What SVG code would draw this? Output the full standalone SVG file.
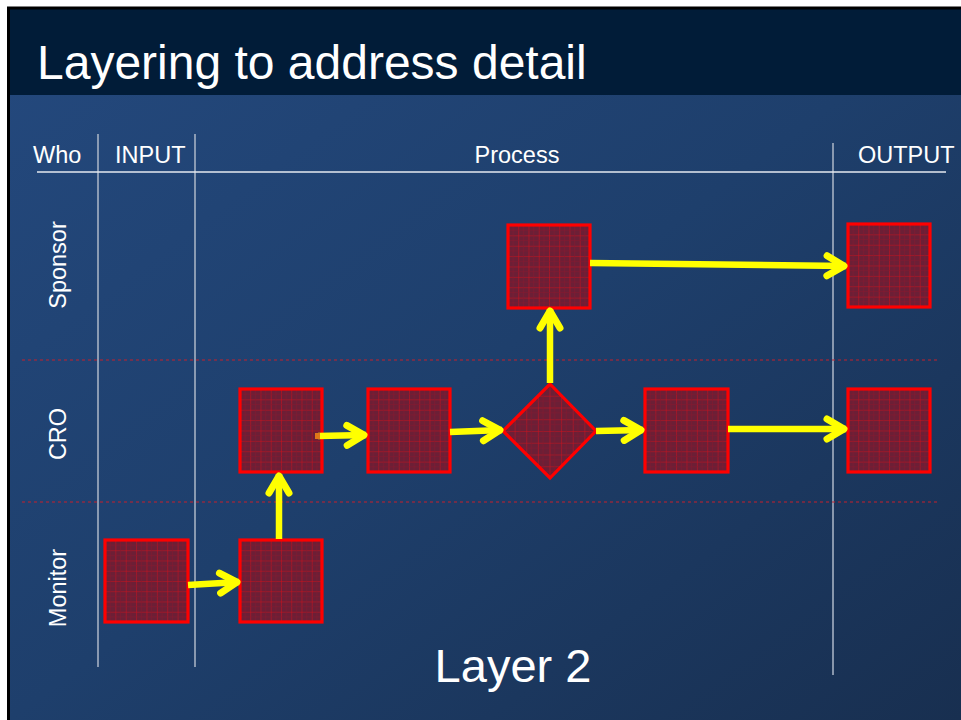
<svg xmlns="http://www.w3.org/2000/svg" width="961" height="720" viewBox="0 0 961 720">
<defs>
<linearGradient id="bg" x1="0" y1="0" x2="1" y2="1">
<stop offset="0" stop-color="#24497e"/>
<stop offset="0.5" stop-color="#1e3f6c"/>
<stop offset="1" stop-color="#182f50"/>
</linearGradient>
<pattern id="grid" patternUnits="objectBoundingBox" width="0.125" height="0.125">
<rect width="12" height="12" fill="#6c1f36"/>
<path d="M0 0H12M0 0V12" stroke="#d0101c" stroke-width="1" fill="none"/>
<path d="M0 5.2H12M5.2 0V12" stroke="#84192f" stroke-width="0.6" fill="none"/>
</pattern>
<marker id="arrow" markerUnits="userSpaceOnUse" orient="auto" refX="0" refY="0" overflow="visible" markerWidth="30" markerHeight="30">
<path d="M-19,-10 L-2,0 L-19,10" fill="none" stroke="#ffff00" stroke-width="7" stroke-linecap="round" stroke-linejoin="round"/>
</marker>
<style>
.t{font-family:"Liberation Sans",Arial,sans-serif;fill:#ffffff}
.hdr{font-size:23.5px}
.box{fill:url(#grid);stroke:#ff0000;stroke-width:3.2}
.vl{stroke:#aeb8c8;stroke-width:1.5}
.dash{stroke:#c4202c;stroke-width:1;stroke-dasharray:3 3}
.c{fill:none;stroke:#ffff00;stroke-width:6.5;marker-end:url(#arrow)}
</style>
</defs>
<rect x="0" y="0" width="961" height="720" fill="#ffffff"/>
<rect x="8" y="8" width="953" height="712" fill="url(#bg)"/>
<rect x="8" y="8" width="953" height="87" fill="#011c38"/>
<path d="M8.5 7V720M7 8H961" stroke="#000000" stroke-width="3" fill="none"/>
<text class="t" x="37" y="79" font-size="48">Layering to address detail</text>

<g id="swimlanes">
<line class="vl" x1="98" y1="134" x2="98" y2="667"/>
<line class="vl" x1="195" y1="134" x2="195" y2="667"/>
<line class="vl" x1="833" y1="143" x2="833" y2="675"/>
<line x1="37" y1="172" x2="946" y2="172" stroke="#e6eaf0" stroke-width="1.5"/>
<line class="dash" x1="22" y1="360" x2="937" y2="360"/>
<line class="dash" x1="22" y1="502" x2="937" y2="502"/>
<text class="t hdr" x="33" y="163">Who</text>
<text class="t hdr" x="115" y="163">INPUT</text>
<text class="t hdr" x="517" y="163" text-anchor="middle">Process</text>
<text class="t hdr" x="858" y="163">OUTPUT</text>
<text class="t hdr" text-anchor="middle" transform="translate(66,265) rotate(-90)">Sponsor</text>
<text class="t hdr" text-anchor="middle" transform="translate(66,434) rotate(-90)">CRO</text>
<text class="t hdr" text-anchor="middle" transform="translate(66,588) rotate(-90)">Monitor</text>
</g>

<g id="sponsor-process"><rect class="box" x="508" y="225" width="82" height="83"/></g>
<g id="sponsor-output"><rect class="box" x="848" y="224" width="82" height="83"/></g>
<g id="cro-1"><rect class="box" x="240" y="389" width="82" height="83"/></g>
<g id="cro-2"><rect class="box" x="368" y="389" width="82" height="83"/></g>
<g id="cro-decision"><path class="box" d="M550 384 L596 431 L550 478 L503 431 Z"/></g>
<g id="cro-3"><rect class="box" x="645" y="389" width="83" height="83"/></g>
<g id="cro-output"><rect class="box" x="848" y="389" width="82" height="83"/></g>
<g id="monitor-input"><rect class="box" x="105" y="540" width="83" height="82"/></g>
<g id="monitor-1"><rect class="box" x="240" y="540" width="82" height="82"/></g>

<g id="connectors">
<path class="c" d="M188 585 L239 582"/>
<path class="c" d="M279 539 L279 474"/>
<path class="c" d="M318 436 L366 435"/>
<path class="c" d="M450 432 L502 430"/>
<path class="c" d="M596 431 L643 430"/>
<path class="c" d="M728 429 L846 429"/>
<path class="c" d="M550 383 L550 309"/>
<path class="c" d="M590 263 L846 266"/>
<rect x="315" y="433" width="5" height="6" fill="#e07818"/>
</g>

<text class="t" x="513" y="682" font-size="47" text-anchor="middle">Layer 2</text>
</svg>
